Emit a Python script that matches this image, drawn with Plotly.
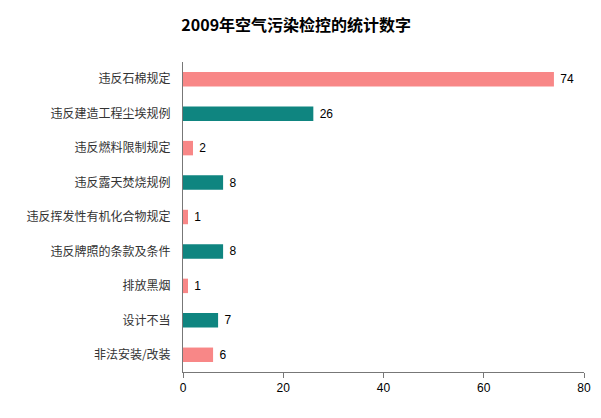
import plotly.graph_objects as go

# Datos del gráfico (de arriba hacia abajo)
categorias = [
    '违反石棉规定',
    '违反建造工程尘埃规例',
    '违反燃料限制规定',
    '违反露天焚烧规例',
    '违反挥发性有机化合物规定',
    '违反牌照的条款及条件',
    '排放黑烟',
    '设计不当',
    '非法安装/改装',
]
valores = [74, 26, 2, 8, 1, 8, 1, 7, 6]
x_ticks = [0, 20, 40, 60, 80]

ROSA = '#f88787'
VERDE = '#0f8580'
colores = [ROSA if i % 2 == 0 else VERDE for i in range(len(categorias))]

fig = go.Figure()

fig.add_trace(go.Bar(
    x=valores,
    y=categorias,
    orientation='h',
    marker=dict(color=colores, line=dict(width=0)),
    text=[' ' + str(v) for v in valores],
    textposition='outside',
    textfont=dict(family='Liberation Sans, Arial', size=12, color='black'),
    cliponaxis=False,
    hoverinfo='skip'
))

# la página añade 8px de margen al body, se compensa en el tamaño
fig.update_layout(
    title=dict(
        text='<b>2009年空气污染检控的统计数字</b>',
        x=0.486, xanchor='center',
        y=0.9585, yanchor='middle',
        font=dict(family='Noto Sans CJK SC', size=16, color='black')
    ),
    width=593,
    height=410,
    margin=dict(l=175, r=17, t=54, b=46),
    bargap=0.58,
    showlegend=False,
    plot_bgcolor='white',
    paper_bgcolor='white',
    font=dict(family='Noto Sans CJK SC', size=12, color='#333333'),
    xaxis=dict(
        range=[0, 80],
        tickvals=x_ticks,
        automargin=False,
        showgrid=False,
        zeroline=False,
        showline=True,
        linecolor='#777777',
        linewidth=1,
        ticks='outside',
        ticklen=5,
        tickcolor='#777777',
        tickfont=dict(family='Liberation Sans, Arial', size=12, color='black'),
    ),
    yaxis=dict(
        categoryorder='array',
        categoryarray=categorias[::-1],
        automargin=False,
        showgrid=False,
        showline=True,
        linecolor='#777777',
        linewidth=1,
        ticks='',
        ticklabelstandoff=9,
        tickfont=dict(family='Noto Sans CJK SC', size=12, color='#333333'),
    ),
)

fig.write_html("out.html")
